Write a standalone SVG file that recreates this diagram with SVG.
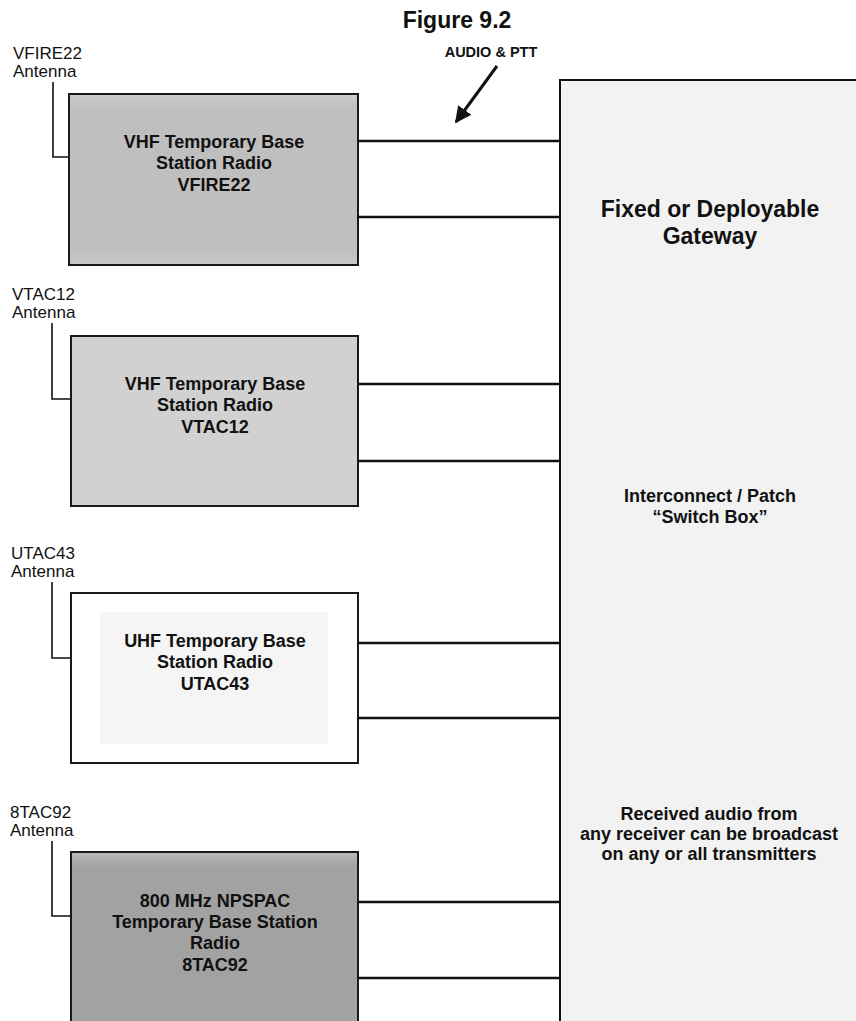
<svg xmlns="http://www.w3.org/2000/svg" width="856" height="1021" viewBox="0 0 856 1021">
<style>
text{font-family:"Liberation Sans",Arial,Helvetica,sans-serif;fill:#111}
.lbl{font-size:17px}
.bt{font-size:18px;font-weight:bold;text-anchor:middle}
.box{stroke:#1a1a1a;stroke-width:2}
.wire{stroke:#111;stroke-width:2.5;fill:none}
.ant{stroke:#111;stroke-width:1.6;fill:none}
</style>
<defs>
<marker id="ah" viewBox="0 0 10 10" refX="9" refY="5" markerWidth="5.5" markerHeight="5.5" orient="auto" markerUnits="strokeWidth">
<path d="M0,0 L10,5 L0,10 z" fill="#111"/>
</marker>
<linearGradient id="g1" x1="0" y1="0" x2="0" y2="1">
<stop offset="0" stop-color="#cdcdcd"/><stop offset="0.08" stop-color="#bfbfbf"/><stop offset="0.92" stop-color="#bfbfbf"/><stop offset="1" stop-color="#cacaca"/>
</linearGradient>
<linearGradient id="g4" x1="0" y1="0" x2="0" y2="1">
<stop offset="0" stop-color="#bababa"/><stop offset="0.08" stop-color="#a2a2a2"/><stop offset="0.9" stop-color="#a2a2a2"/><stop offset="1" stop-color="#b8b8b8"/>
</linearGradient>
</defs>
<rect width="856" height="1021" fill="#fff"/>

<text x="457" y="28" text-anchor="middle" style="font-size:23px;font-weight:bold">Figure 9.2</text>
<text x="491" y="57" text-anchor="middle" style="font-size:14.5px;font-weight:bold">AUDIO &amp; PTT</text>

<g id="gateway">
<rect x="560" y="80" width="310" height="960" fill="#f2f2f2" stroke="#111" stroke-width="2"/>
<text x="710" y="217" class="bt" style="font-size:23px">Fixed or Deployable</text>
<text x="710" y="244" class="bt" style="font-size:23px">Gateway</text>
<text x="710" y="502" class="bt">Interconnect / Patch</text>
<text x="710" y="523" class="bt">“Switch Box”</text>
<text x="709" y="820" class="bt">Received audio from</text>
<text x="709" y="840" class="bt">any receiver can be broadcast</text>
<text x="709" y="860" class="bt">on any or all transmitters</text>
</g>

<g id="radio-vfire22">
<text x="13" y="59" class="lbl">VFIRE22</text>
<text x="13" y="77" class="lbl">Antenna</text>
<polyline class="ant" points="53,82 53,157 69,157"/>
<rect x="69" y="94" width="289" height="171" fill="url(#g1)" class="box"/>
<text x="214" y="148" class="bt">VHF Temporary Base</text>
<text x="214" y="169" class="bt">Station Radio</text>
<text x="214" y="191" class="bt">VFIRE22</text>
</g>

<g id="radio-vtac12">
<text x="12" y="300" class="lbl">VTAC12</text>
<text x="12" y="318" class="lbl">Antenna</text>
<polyline class="ant" points="52,323 52,399 71,399"/>
<rect x="71" y="336" width="287" height="170" fill="#d1d1d1" class="box"/>
<text x="215" y="390" class="bt">VHF Temporary Base</text>
<text x="215" y="411" class="bt">Station Radio</text>
<text x="215" y="433" class="bt">VTAC12</text>
</g>

<g id="radio-utac43">
<text x="11" y="559" class="lbl">UTAC43</text>
<text x="11" y="577" class="lbl">Antenna</text>
<polyline class="ant" points="52,582 52,658 71,658"/>
<rect x="71" y="593" width="287" height="170" fill="#ffffff" class="box"/>
<rect x="100" y="612" width="228" height="132" fill="#f5f5f5"/>
<text x="215" y="647" class="bt">UHF Temporary Base</text>
<text x="215" y="668" class="bt">Station Radio</text>
<text x="215" y="690" class="bt">UTAC43</text>
</g>

<g id="radio-8tac92">
<text x="10" y="818" class="lbl">8TAC92</text>
<text x="10" y="836" class="lbl">Antenna</text>
<polyline class="ant" points="52,841 52,916 71,916"/>
<rect x="71" y="852" width="287" height="190" fill="url(#g4)" class="box"/>
<text x="215" y="907" class="bt">800 MHz NPSPAC</text>
<text x="215" y="928" class="bt">Temporary Base Station</text>
<text x="215" y="949" class="bt">Radio</text>
<text x="215" y="971" class="bt">8TAC92</text>
</g>

<g id="connectors">
<line class="wire" x1="358" y1="141" x2="560" y2="141"/>
<line class="wire" x1="358" y1="217" x2="560" y2="217"/>
<line class="wire" x1="358" y1="384" x2="560" y2="384"/>
<line class="wire" x1="358" y1="461" x2="560" y2="461"/>
<line class="wire" x1="358" y1="643" x2="560" y2="643"/>
<line class="wire" x1="358" y1="718" x2="560" y2="718"/>
<line class="wire" x1="358" y1="902" x2="560" y2="902"/>
<line class="wire" x1="358" y1="978" x2="560" y2="978"/>
<line x1="497" y1="66" x2="456" y2="122" stroke="#111" stroke-width="3" marker-end="url(#ah)"/>
</g>
</svg>
